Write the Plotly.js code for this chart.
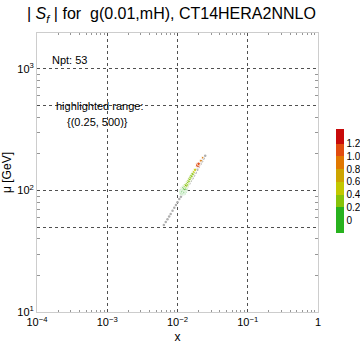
<!DOCTYPE html>
<html><head><meta charset="utf-8">
<script src="https://cdn.plot.ly/plotly-3.0.1.min.js"></script>
<style>html,body{margin:0;padding:0;background:#fff}#c{width:360px;height:344px}</style>
</head><body><div id="c"></div>
<script>
// background (not highlighted) points
const grayX = [0.0064,0.0068,0.0072,0.0076,0.0080,0.0085,0.0090,0.0095,0.0100,0.0106,0.0112,0.0118,0.0125,0.0132,0.0139,0.0147,0.0155,0.0163,0.0172,0.0181,0.0191,0.0201,0.0212,0.0223,0.0235,0.0248];
const grayMu = [52,55,58,61,64,68,72,76,80,85,89,93,98,103,108,114,120,126,133,140,148,156,165,174,183,193];
// highlighted points with |S_f|
const colX = [0.0118,0.0119,0.0120,0.0121,0.0122,0.0123,0.0124,0.0125,0.0126,0.0127,0.0128,0.0130,0.0132,0.0135,0.0138,0.0142,0.0146,0.0150,0.0155,0.0160,0.0166,0.0172,0.0178,0.0195,0.0200,0.0215,0.0228];
const colMu = [97,98,99,100,101,102,103,104,104,105,106,108,110,112,115,118,121,125,129,133,138,143,148,162,166,176,186];
const colS = [0.05,0.08,0.10,0.12,0.15,0.10,0.12,0.18,0.15,0.20,0.18,0.22,0.25,0.28,0.30,0.32,0.30,0.35,0.32,0.38,0.36,0.45,0.55,1.10,1.15,0.90,0.85];
const colSize = [7,7,7,7,7,7,6,6,6,6,6,5,5,5,4,4,4,4,4,4,4,3.5,3.5,5,3.5,3,2.5];
const xTickVals = [1e-4,1e-3,1e-2,1e-1,1];
const xTickText = ["10<sup>−4</sup>","10<sup>−3</sup>","10<sup>−2</sup>","10<sup>−1</sup>","1"];
const yTickVals = [10,50,100,500,1000];
const yTickText = ["10<sup>1</sup>","","10<sup>2</sup>","","10<sup>3</sup>"];
const yMinor = [20,30,40,60,70,80,90,200,300,400,600,700,800,900,2000];
const xMinor = [2e-4,3e-4,4e-4,5e-4,6e-4,7e-4,8e-4,9e-4,2e-3,3e-3,4e-3,5e-3,6e-3,7e-3,8e-3,9e-3,2e-2,3e-2,4e-2,5e-2,6e-2,7e-2,8e-2,9e-2,0.2,0.3,0.4,0.5,0.6,0.7,0.8,0.9];
const cbVals = [0,0.2,0.4,0.6,0.8,1.0,1.2];
const cbText = ["0","0.2","0.4","0.6","0.8","1.0","1.2"];

const cmin=-0.2, cmax=1.43;
const bounds=[0.2,0.4,0.6,0.8,1.0,1.2].map(v=>(v-cmin)/(cmax-cmin));
const cols=['rgb(40,178,30)','rgb(135,195,10)','rgb(195,200,0)','rgb(205,165,0)','rgb(225,120,0)','rgb(225,75,15)','rgb(200,10,10)'];
const cs=[];
let prev=0;
for(let i=0;i<cols.length;i++){const nb=i<bounds.length?bounds[i]:1;cs.push([prev,cols[i]]);cs.push([nb,cols[i]]);prev=nb;}

const traces=[
 {x:grayX,y:grayMu,type:'scatter',mode:'markers',marker:{color:'rgb(175,175,175)',size:2.5},hoverinfo:'skip',showlegend:false},
 {x:colX,y:colMu,type:'scatter',mode:'markers',marker:{color:colS,colorscale:cs,cmin:cmin,cmax:cmax,size:colSize,opacity:0.85,
   colorbar:{thickness:8,len:104,lenmode:'pixels',x:1.063,xanchor:'left',xpad:0,ypad:0,y:0.47,yanchor:'middle',outlinewidth:0,
   tickvals:cbVals,ticktext:cbText,ticks:'',ticklabelposition:'outside',tickfont:{size:10,family:'Liberation Sans',color:'#000'}}},showlegend:false},
 {x:[1e-4],y:[10],xaxis:'x2',yaxis:'y2',type:'scatter',mode:'markers',marker:{size:1,opacity:0},hoverinfo:'skip',showlegend:false}
];
const gridCol='rgb(80,80,80)';
const minorCol='rgb(150,150,150)';
const layout={
 width:360,height:344,margin:{l:37,r:42,t:33,b:32,autoexpand:false},
 paper_bgcolor:'#fff',plot_bgcolor:'#fff',
 font:{family:'Liberation Sans, Arial, sans-serif',color:'#000',size:11},
 title:{text:'| <i>S<sub>f</sub></i> | for  g(0.01,mH), CT14HERA2NNLO',x:0.075,xanchor:'left',y:0.96,yanchor:'middle',font:{size:16,family:'Liberation Sans'}},
 xaxis:{type:'log',range:[-4,0],tickvals:xTickVals,ticktext:xTickText,showgrid:true,gridcolor:gridCol,griddash:'3px,3px',gridwidth:1,
   showline:true,linecolor:'rgb(205,205,205)',mirror:true,ticks:'',zeroline:false,
   title:{text:'x',standoff:6,font:{size:12}},tickfont:{size:11}},
 yaxis:{type:'log',range:[1,3.296],tickvals:yTickVals,ticktext:yTickText,showgrid:true,gridcolor:gridCol,griddash:'3px,3px',gridwidth:1,
   showline:true,linecolor:'rgb(205,205,205)',mirror:true,ticks:'',zeroline:false,
   title:{text:'μ [GeV]',standoff:4,font:{size:12}},tickfont:{size:11}},
 xaxis2:{type:'log',range:[-4,0],overlaying:'x',anchor:'y',side:'bottom',tickvals:xMinor,ticks:'inside',ticklen:2,tickcolor:minorCol,showticklabels:false,showgrid:false,zeroline:false,mirror:'ticks',showline:true,linecolor:'rgba(0,0,0,0)'},
 yaxis2:{type:'log',range:[1,3.296],overlaying:'y',anchor:'x',side:'left',tickvals:yMinor,ticks:'inside',ticklen:3,tickcolor:minorCol,showticklabels:false,showgrid:false,zeroline:false,mirror:'ticks',showline:true,linecolor:'rgba(0,0,0,0)'},
 annotations:[
  {xref:'paper',yref:'paper',x:0.045,y:0.905,xanchor:'left',yanchor:'middle',text:'Npt: 53',showarrow:false,font:{size:11}},
  {xref:'paper',yref:'paper',x:0.06,y:0.737,xanchor:'left',yanchor:'middle',text:'highlighted range:',showarrow:false,font:{size:11}},
  {xref:'paper',yref:'paper',x:0.1,y:0.682,xanchor:'left',yanchor:'middle',text:'{(0.25, 500)}',showarrow:false,font:{size:11}}
 ]
};
Plotly.newPlot('c',traces,layout,{displayModeBar:false,staticPlot:true});
</script></body></html>
